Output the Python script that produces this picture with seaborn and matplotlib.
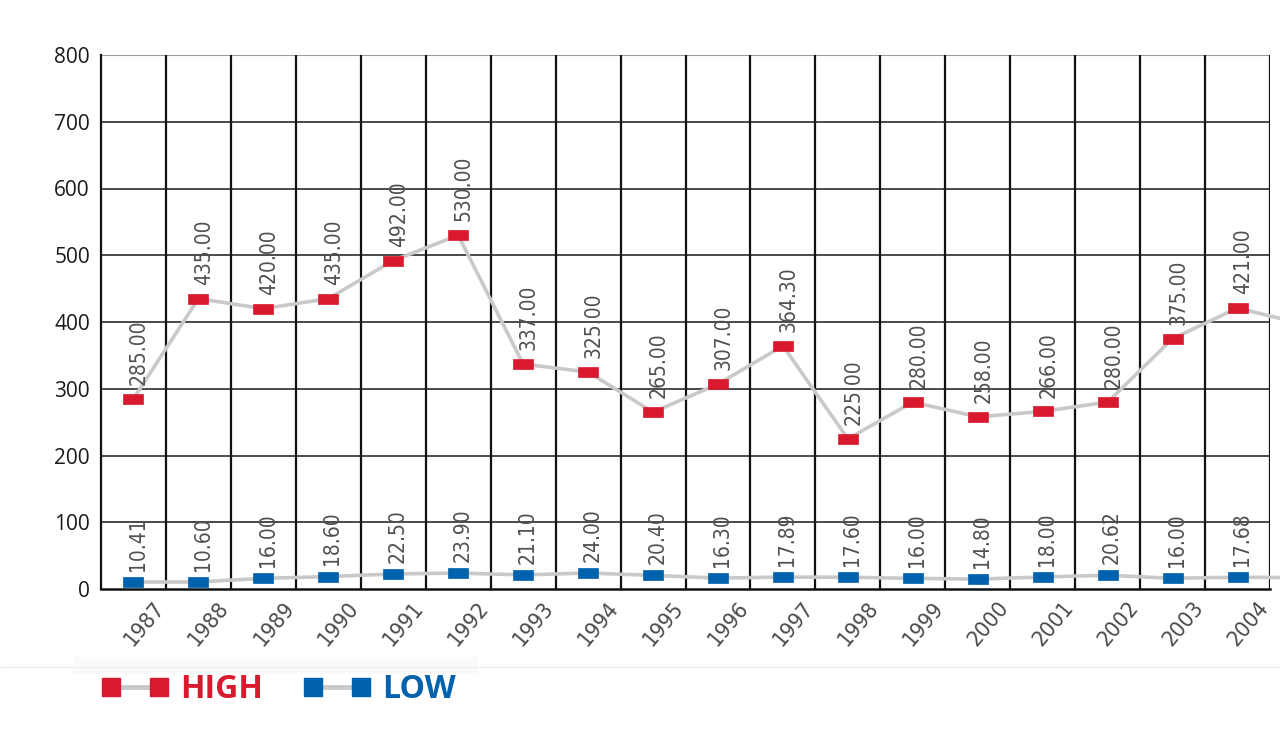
import numpy as np
import pandas as pd
import matplotlib
matplotlib.use("Agg")
import matplotlib.pyplot as plt
import matplotlib.transforms as mtransforms
from matplotlib import font_manager
from matplotlib.lines import Line2D
from matplotlib.patches import Rectangle
import seaborn as sns

# data (2005 point runs off the right edge)
years = [1987, 1988, 1989, 1990, 1991, 1992, 1993, 1994, 1995,
         1996, 1997, 1998, 1999, 2000, 2001, 2002, 2003, 2004, 2005]
high = [285.00, 435.00, 420.00, 435.00, 492.00, 530.00, 337.00, 325.00, 265.00,
        307.00, 364.30, 225.00, 280.00, 258.00, 266.00, 280.00, 375.00, 421.00, 397.00]
low = [10.41, 10.60, 16.00, 18.60, 22.50, 23.90, 21.10, 24.00, 20.40,
       16.30, 17.89, 17.60, 16.00, 14.80, 18.00, 20.62, 16.00, 17.68, 17.00]
shown_years = years[:18]
y_ticks = [0, 100, 200, 300, 400, 500, 600, 700, 800]

RED = "#d9192e"
BLUE = "#0061ad"
GREY_LINE = "#c9c9c9"
LABEL_GREY = "#505050"

sns.set_style("white")
plt.rcParams["font.family"] = ["Open Sans", "DejaVu Sans"]

names = {f.name for f in font_manager.fontManager.ttflist}
if "Liberation Sans Narrow" in names:
    narrow = dict(family="Liberation Sans Narrow")
else:
    narrow = dict(family="DejaVu Sans", stretch="condensed")

df = pd.DataFrame({"pos": np.arange(len(years)), "year": years, "high": high, "low": low})

fig = plt.figure(figsize=(12.8, 7.29), dpi=100)
ax = fig.add_axes([101 / 1280, 140 / 729, 1169 / 1280, 534 / 729])

# grid
for v in y_ticks[1:-1]:
    ax.axhline(v, color="#3c3c3c", lw=1.3, zorder=1)
ax.axhline(800, color="#9a9a9a", lw=1.5, zorder=1)
for i in range(len(shown_years)):
    ax.axvline(i + 0.5, color="#111111", lw=1.6, zorder=1)

rect = [(-1, -0.52), (1, -0.52), (1, 0.52), (-1, 0.52), (-1, -0.52)]
for col, c in [("high", RED), ("low", BLUE)]:
    sns.lineplot(data=df, x="pos", y=col, ax=ax, color=GREY_LINE, lw=2.6,
                 marker=rect, markersize=15, markerfacecolor=c,
                 markeredgecolor=c, markeredgewidth=0.5, clip_on=False, zorder=3)

for i in range(len(shown_years)):
    ax.annotate(f"{high[i]:.2f}", (i, high[i]), xytext=(4, 10), textcoords="offset points",
                rotation=90, ha="center", va="bottom", fontsize=15,
                color=LABEL_GREY, zorder=4, **narrow)
    ax.annotate(f"{low[i]:.2f}", (i, low[i]), xytext=(3, 8), textcoords="offset points",
                rotation=90, ha="center", va="bottom", fontsize=15,
                color=LABEL_GREY, zorder=4, **narrow)

ax.set_xlim(-0.5, len(shown_years) - 0.5)
ax.set_ylim(0, 800)
ax.tick_params(axis="both", length=0)
ax.tick_params(axis="y", pad=8)
ax.tick_params(axis="x", pad=11)
ax.set_yticks(y_ticks)
ax.set_yticklabels([str(v) for v in y_ticks], fontsize=15, color="#1a1a1a")
ax.set_xticks(range(len(shown_years)))
ax.set_xticklabels([str(y) for y in shown_years], rotation=50, ha="right", va="center",
                   rotation_mode="anchor", fontsize=16, color="#4a4a4a", **narrow)
shift = mtransforms.ScaledTranslation(0.27, 0, fig.dpi_scale_trans)
for lab in ax.get_xticklabels():
    lab.set_transform(lab.get_transform() + shift)
ax.set_xlabel("")
ax.set_ylabel("")

for s in ["top", "right"]:
    ax.spines[s].set_visible(False)
ax.spines["left"].set_color("#111111")
ax.spines["left"].set_linewidth(1.6)
ax.spines["bottom"].set_color("#111111")
ax.spines["bottom"].set_linewidth(1.8)

# faint separator band above the legend
fig.add_artist(Line2D([0, 1], [1 - 667 / 729] * 2, color="#efefef", lw=1, transform=fig.transFigure))
fig.add_artist(Rectangle((73 / 1280, 1 - 674 / 729), 405 / 1280, 17 / 729,
                         color="#fafafa", transform=fig.transFigure, lw=0))

handles = [
    Line2D([], [], color=GREY_LINE, lw=3.5, marker="s", markersize=13.5,
           markerfacecolor=RED, markeredgecolor=RED),
    Line2D([], [], color=GREY_LINE, lw=3.5, marker="s", markersize=13.5,
           markerfacecolor=BLUE, markeredgecolor=BLUE),
]
fig.legend(handles, ["HIGH", "LOW"], loc="center left",
           bbox_to_anchor=(101 / 1280, 1 - 690 / 729), ncol=2, numpoints=2,
           frameon=False, borderpad=0, borderaxespad=0, handlelength=2.1,
           handletextpad=0.37, columnspacing=1.28, labelcolor=[RED, BLUE],
           prop=dict(family="Open Sans", weight="bold", size=23))

fig.savefig("out.png", dpi=100)
